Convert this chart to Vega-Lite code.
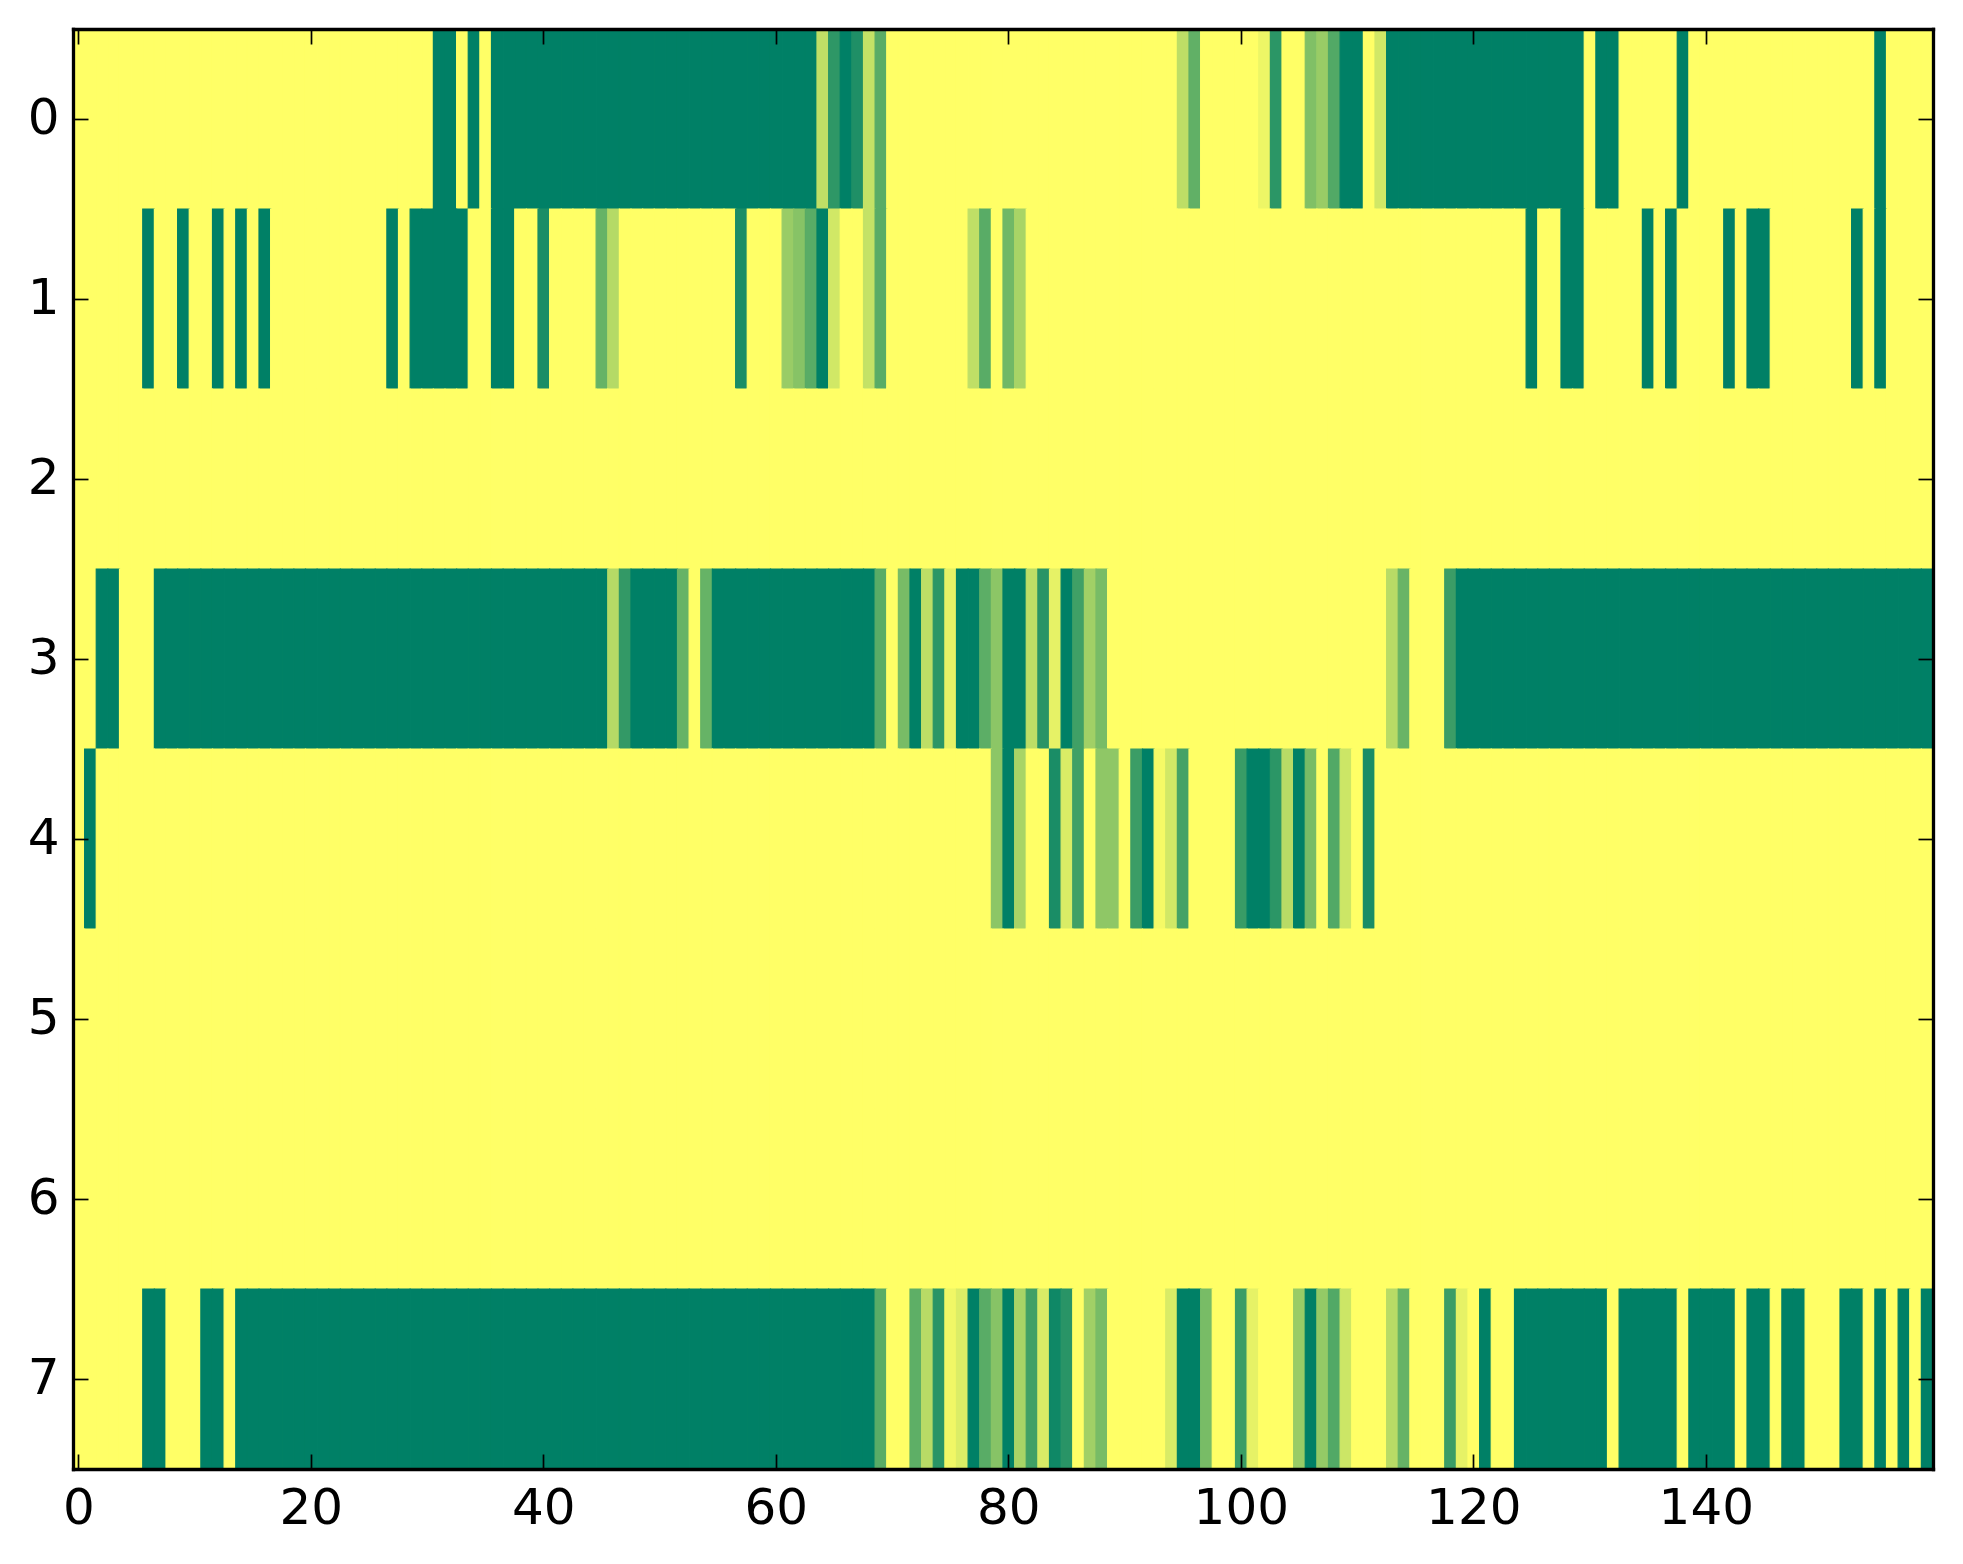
{
"$schema":"https://vega.github.io/schema/vega-lite/v6.json",
"width":1860,
"height":1440,
"autosize":{"type":"none"},
"padding":{"left":73,"top":29,"right":30,"bottom":95},
"background":"white",
"config":{"font":"DejaVu Sans","view":{"stroke":null},
"axis":{"domainColor":"#000","domainWidth":3.3,"domainCap":"square","tickColor":"#000","tickWidth":1.7,"tickSize":-15,"labelColor":"#000","labelFontSize":50,"labelFont":"DejaVu Sans","labelFontWeight":"normal","grid":false,"title":null,"labelAngle":0,"labelFlush":false,"labelOverlap":false}},
"data":{"values":[
{"r":0,"c":0,"v":0},{"r":0,"c":1,"v":0},{"r":0,"c":2,"v":0},{"r":0,"c":3,"v":0},{"r":0,"c":4,"v":0},{"r":0,"c":5,"v":0},{"r":0,"c":6,"v":0},{"r":0,"c":7,"v":0},{"r":0,"c":8,"v":0},{"r":0,"c":9,"v":0},
{"r":0,"c":10,"v":0},{"r":0,"c":11,"v":0},{"r":0,"c":12,"v":0},{"r":0,"c":13,"v":0},{"r":0,"c":14,"v":0},{"r":0,"c":15,"v":0},{"r":0,"c":16,"v":0},{"r":0,"c":17,"v":0},{"r":0,"c":18,"v":0},{"r":0,"c":19,"v":0},
{"r":0,"c":20,"v":0},{"r":0,"c":21,"v":0},{"r":0,"c":22,"v":0},{"r":0,"c":23,"v":0},{"r":0,"c":24,"v":0},{"r":0,"c":25,"v":0},{"r":0,"c":26,"v":0},{"r":0,"c":27,"v":0},{"r":0,"c":28,"v":0},{"r":0,"c":29,"v":0},
{"r":0,"c":30,"v":0},{"r":0,"c":31,"v":1},{"r":0,"c":32,"v":1},{"r":0,"c":33,"v":0},{"r":0,"c":34,"v":1},{"r":0,"c":35,"v":0},{"r":0,"c":36,"v":1},{"r":0,"c":37,"v":1},{"r":0,"c":38,"v":1},{"r":0,"c":39,"v":1},
{"r":0,"c":40,"v":1},{"r":0,"c":41,"v":1},{"r":0,"c":42,"v":1},{"r":0,"c":43,"v":1},{"r":0,"c":44,"v":1},{"r":0,"c":45,"v":1},{"r":0,"c":46,"v":1},{"r":0,"c":47,"v":1},{"r":0,"c":48,"v":1},{"r":0,"c":49,"v":1},
{"r":0,"c":50,"v":1},{"r":0,"c":51,"v":1},{"r":0,"c":52,"v":1},{"r":0,"c":53,"v":1},{"r":0,"c":54,"v":1},{"r":0,"c":55,"v":1},{"r":0,"c":56,"v":1},{"r":0,"c":57,"v":1},{"r":0,"c":58,"v":1},{"r":0,"c":59,"v":1},
{"r":0,"c":60,"v":1},{"r":0,"c":61,"v":1},{"r":0,"c":62,"v":1},{"r":0,"c":63,"v":1},{"r":0,"c":64,"v":0.25},{"r":0,"c":65,"v":0.82},{"r":0,"c":66,"v":1},{"r":0,"c":67,"v":0.88},{"r":0,"c":68,"v":0.23},{"r":0,"c":69,"v":0.65},
{"r":0,"c":70,"v":0},{"r":0,"c":71,"v":0},{"r":0,"c":72,"v":0},{"r":0,"c":73,"v":0},{"r":0,"c":74,"v":0},{"r":0,"c":75,"v":0},{"r":0,"c":76,"v":0},{"r":0,"c":77,"v":0},{"r":0,"c":78,"v":0},{"r":0,"c":79,"v":0},
{"r":0,"c":80,"v":0},{"r":0,"c":81,"v":0},{"r":0,"c":82,"v":0},{"r":0,"c":83,"v":0},{"r":0,"c":84,"v":0},{"r":0,"c":85,"v":0},{"r":0,"c":86,"v":0},{"r":0,"c":87,"v":0},{"r":0,"c":88,"v":0},{"r":0,"c":89,"v":0},
{"r":0,"c":90,"v":0},{"r":0,"c":91,"v":0},{"r":0,"c":92,"v":0},{"r":0,"c":93,"v":0},{"r":0,"c":94,"v":0},{"r":0,"c":95,"v":0.26},{"r":0,"c":96,"v":0.62},{"r":0,"c":97,"v":0},{"r":0,"c":98,"v":0},{"r":0,"c":99,"v":0},
{"r":0,"c":100,"v":0},{"r":0,"c":101,"v":0},{"r":0,"c":102,"v":0.07},{"r":0,"c":103,"v":0.83},{"r":0,"c":104,"v":0},{"r":0,"c":105,"v":0},{"r":0,"c":106,"v":0.5},{"r":0,"c":107,"v":0.4},{"r":0,"c":108,"v":0.68},{"r":0,"c":109,"v":1},
{"r":0,"c":110,"v":1},{"r":0,"c":111,"v":0},{"r":0,"c":112,"v":0.18},{"r":0,"c":113,"v":1},{"r":0,"c":114,"v":1},{"r":0,"c":115,"v":1},{"r":0,"c":116,"v":1},{"r":0,"c":117,"v":1},{"r":0,"c":118,"v":1},{"r":0,"c":119,"v":1},
{"r":0,"c":120,"v":1},{"r":0,"c":121,"v":1},{"r":0,"c":122,"v":1},{"r":0,"c":123,"v":1},{"r":0,"c":124,"v":1},{"r":0,"c":125,"v":1},{"r":0,"c":126,"v":1},{"r":0,"c":127,"v":1},{"r":0,"c":128,"v":1},{"r":0,"c":129,"v":1},
{"r":0,"c":130,"v":0},{"r":0,"c":131,"v":1},{"r":0,"c":132,"v":1},{"r":0,"c":133,"v":0},{"r":0,"c":134,"v":0},{"r":0,"c":135,"v":0},{"r":0,"c":136,"v":0},{"r":0,"c":137,"v":0},{"r":0,"c":138,"v":1},{"r":0,"c":139,"v":0},
{"r":0,"c":140,"v":0},{"r":0,"c":141,"v":0},{"r":0,"c":142,"v":0},{"r":0,"c":143,"v":0},{"r":0,"c":144,"v":0},{"r":0,"c":145,"v":0},{"r":0,"c":146,"v":0},{"r":0,"c":147,"v":0},{"r":0,"c":148,"v":0},{"r":0,"c":149,"v":0},
{"r":0,"c":150,"v":0},{"r":0,"c":151,"v":0},{"r":0,"c":152,"v":0},{"r":0,"c":153,"v":0},{"r":0,"c":154,"v":0},{"r":0,"c":155,"v":1},{"r":0,"c":156,"v":0},{"r":0,"c":157,"v":0},{"r":0,"c":158,"v":0},{"r":0,"c":159,"v":0},

{"r":1,"c":0,"v":0},{"r":1,"c":1,"v":0},{"r":1,"c":2,"v":0},{"r":1,"c":3,"v":0},{"r":1,"c":4,"v":0},{"r":1,"c":5,"v":0},{"r":1,"c":6,"v":1},{"r":1,"c":7,"v":0},{"r":1,"c":8,"v":0},{"r":1,"c":9,"v":1},
{"r":1,"c":10,"v":0},{"r":1,"c":11,"v":0},{"r":1,"c":12,"v":1},{"r":1,"c":13,"v":0},{"r":1,"c":14,"v":1},{"r":1,"c":15,"v":0},{"r":1,"c":16,"v":1},{"r":1,"c":17,"v":0},{"r":1,"c":18,"v":0},{"r":1,"c":19,"v":0},
{"r":1,"c":20,"v":0},{"r":1,"c":21,"v":0},{"r":1,"c":22,"v":0},{"r":1,"c":23,"v":0},{"r":1,"c":24,"v":0},{"r":1,"c":25,"v":0},{"r":1,"c":26,"v":0},{"r":1,"c":27,"v":1},{"r":1,"c":28,"v":0},{"r":1,"c":29,"v":1},
{"r":1,"c":30,"v":1},{"r":1,"c":31,"v":1},{"r":1,"c":32,"v":1},{"r":1,"c":33,"v":1},{"r":1,"c":34,"v":0},{"r":1,"c":35,"v":0},{"r":1,"c":36,"v":1},{"r":1,"c":37,"v":1},{"r":1,"c":38,"v":0},{"r":1,"c":39,"v":0},
{"r":1,"c":40,"v":0.9},{"r":1,"c":41,"v":0},{"r":1,"c":42,"v":0},{"r":1,"c":43,"v":0},{"r":1,"c":44,"v":0},{"r":1,"c":45,"v":0.6},{"r":1,"c":46,"v":0.29},{"r":1,"c":47,"v":0},{"r":1,"c":48,"v":0},{"r":1,"c":49,"v":0},
{"r":1,"c":50,"v":0},{"r":1,"c":51,"v":0},{"r":1,"c":52,"v":0},{"r":1,"c":53,"v":0},{"r":1,"c":54,"v":0},{"r":1,"c":55,"v":0},{"r":1,"c":56,"v":0},{"r":1,"c":57,"v":0.9},{"r":1,"c":58,"v":0},{"r":1,"c":59,"v":0},
{"r":1,"c":60,"v":0},{"r":1,"c":61,"v":0.4},{"r":1,"c":62,"v":0.47},{"r":1,"c":63,"v":0.65},{"r":1,"c":64,"v":1},{"r":1,"c":65,"v":0.18},{"r":1,"c":66,"v":0},{"r":1,"c":67,"v":0},{"r":1,"c":68,"v":0.23},{"r":1,"c":69,"v":0.65},
{"r":1,"c":70,"v":0},{"r":1,"c":71,"v":0},{"r":1,"c":72,"v":0},{"r":1,"c":73,"v":0},{"r":1,"c":74,"v":0},{"r":1,"c":75,"v":0},{"r":1,"c":76,"v":0},{"r":1,"c":77,"v":0.25},{"r":1,"c":78,"v":0.65},{"r":1,"c":79,"v":0},
{"r":1,"c":80,"v":0.56},{"r":1,"c":81,"v":0.34},{"r":1,"c":82,"v":0},{"r":1,"c":83,"v":0},{"r":1,"c":84,"v":0},{"r":1,"c":85,"v":0},{"r":1,"c":86,"v":0},{"r":1,"c":87,"v":0},{"r":1,"c":88,"v":0},{"r":1,"c":89,"v":0},
{"r":1,"c":90,"v":0},{"r":1,"c":91,"v":0},{"r":1,"c":92,"v":0},{"r":1,"c":93,"v":0},{"r":1,"c":94,"v":0},{"r":1,"c":95,"v":0},{"r":1,"c":96,"v":0},{"r":1,"c":97,"v":0},{"r":1,"c":98,"v":0},{"r":1,"c":99,"v":0},
{"r":1,"c":100,"v":0},{"r":1,"c":101,"v":0},{"r":1,"c":102,"v":0},{"r":1,"c":103,"v":0},{"r":1,"c":104,"v":0},{"r":1,"c":105,"v":0},{"r":1,"c":106,"v":0},{"r":1,"c":107,"v":0},{"r":1,"c":108,"v":0},{"r":1,"c":109,"v":0},
{"r":1,"c":110,"v":0},{"r":1,"c":111,"v":0},{"r":1,"c":112,"v":0},{"r":1,"c":113,"v":0},{"r":1,"c":114,"v":0},{"r":1,"c":115,"v":0},{"r":1,"c":116,"v":0},{"r":1,"c":117,"v":0},{"r":1,"c":118,"v":0},{"r":1,"c":119,"v":0},
{"r":1,"c":120,"v":0},{"r":1,"c":121,"v":0},{"r":1,"c":122,"v":0},{"r":1,"c":123,"v":0},{"r":1,"c":124,"v":0},{"r":1,"c":125,"v":1},{"r":1,"c":126,"v":0},{"r":1,"c":127,"v":0},{"r":1,"c":128,"v":1},{"r":1,"c":129,"v":1},
{"r":1,"c":130,"v":0},{"r":1,"c":131,"v":0},{"r":1,"c":132,"v":0},{"r":1,"c":133,"v":0},{"r":1,"c":134,"v":0},{"r":1,"c":135,"v":1},{"r":1,"c":136,"v":0},{"r":1,"c":137,"v":1},{"r":1,"c":138,"v":0},{"r":1,"c":139,"v":0},
{"r":1,"c":140,"v":0},{"r":1,"c":141,"v":0},{"r":1,"c":142,"v":1},{"r":1,"c":143,"v":0},{"r":1,"c":144,"v":1},{"r":1,"c":145,"v":1},{"r":1,"c":146,"v":0},{"r":1,"c":147,"v":0},{"r":1,"c":148,"v":0},{"r":1,"c":149,"v":0},
{"r":1,"c":150,"v":0},{"r":1,"c":151,"v":0},{"r":1,"c":152,"v":0},{"r":1,"c":153,"v":1},{"r":1,"c":154,"v":0},{"r":1,"c":155,"v":1},{"r":1,"c":156,"v":0},{"r":1,"c":157,"v":0},{"r":1,"c":158,"v":0},{"r":1,"c":159,"v":0},

{"r":2,"c":0,"v":0},{"r":2,"c":1,"v":0},{"r":2,"c":2,"v":0},{"r":2,"c":3,"v":0},{"r":2,"c":4,"v":0},{"r":2,"c":5,"v":0},{"r":2,"c":6,"v":0},{"r":2,"c":7,"v":0},{"r":2,"c":8,"v":0},{"r":2,"c":9,"v":0},
{"r":2,"c":10,"v":0},{"r":2,"c":11,"v":0},{"r":2,"c":12,"v":0},{"r":2,"c":13,"v":0},{"r":2,"c":14,"v":0},{"r":2,"c":15,"v":0},{"r":2,"c":16,"v":0},{"r":2,"c":17,"v":0},{"r":2,"c":18,"v":0},{"r":2,"c":19,"v":0},
{"r":2,"c":20,"v":0},{"r":2,"c":21,"v":0},{"r":2,"c":22,"v":0},{"r":2,"c":23,"v":0},{"r":2,"c":24,"v":0},{"r":2,"c":25,"v":0},{"r":2,"c":26,"v":0},{"r":2,"c":27,"v":0},{"r":2,"c":28,"v":0},{"r":2,"c":29,"v":0},
{"r":2,"c":30,"v":0},{"r":2,"c":31,"v":0},{"r":2,"c":32,"v":0},{"r":2,"c":33,"v":0},{"r":2,"c":34,"v":0},{"r":2,"c":35,"v":0},{"r":2,"c":36,"v":0},{"r":2,"c":37,"v":0},{"r":2,"c":38,"v":0},{"r":2,"c":39,"v":0},
{"r":2,"c":40,"v":0},{"r":2,"c":41,"v":0},{"r":2,"c":42,"v":0},{"r":2,"c":43,"v":0},{"r":2,"c":44,"v":0},{"r":2,"c":45,"v":0},{"r":2,"c":46,"v":0},{"r":2,"c":47,"v":0},{"r":2,"c":48,"v":0},{"r":2,"c":49,"v":0},
{"r":2,"c":50,"v":0},{"r":2,"c":51,"v":0},{"r":2,"c":52,"v":0},{"r":2,"c":53,"v":0},{"r":2,"c":54,"v":0},{"r":2,"c":55,"v":0},{"r":2,"c":56,"v":0},{"r":2,"c":57,"v":0},{"r":2,"c":58,"v":0},{"r":2,"c":59,"v":0},
{"r":2,"c":60,"v":0},{"r":2,"c":61,"v":0},{"r":2,"c":62,"v":0},{"r":2,"c":63,"v":0},{"r":2,"c":64,"v":0},{"r":2,"c":65,"v":0},{"r":2,"c":66,"v":0},{"r":2,"c":67,"v":0},{"r":2,"c":68,"v":0},{"r":2,"c":69,"v":0},
{"r":2,"c":70,"v":0},{"r":2,"c":71,"v":0},{"r":2,"c":72,"v":0},{"r":2,"c":73,"v":0},{"r":2,"c":74,"v":0},{"r":2,"c":75,"v":0},{"r":2,"c":76,"v":0},{"r":2,"c":77,"v":0},{"r":2,"c":78,"v":0},{"r":2,"c":79,"v":0},
{"r":2,"c":80,"v":0},{"r":2,"c":81,"v":0},{"r":2,"c":82,"v":0},{"r":2,"c":83,"v":0},{"r":2,"c":84,"v":0},{"r":2,"c":85,"v":0},{"r":2,"c":86,"v":0},{"r":2,"c":87,"v":0},{"r":2,"c":88,"v":0},{"r":2,"c":89,"v":0},
{"r":2,"c":90,"v":0},{"r":2,"c":91,"v":0},{"r":2,"c":92,"v":0},{"r":2,"c":93,"v":0},{"r":2,"c":94,"v":0},{"r":2,"c":95,"v":0},{"r":2,"c":96,"v":0},{"r":2,"c":97,"v":0},{"r":2,"c":98,"v":0},{"r":2,"c":99,"v":0},
{"r":2,"c":100,"v":0},{"r":2,"c":101,"v":0},{"r":2,"c":102,"v":0},{"r":2,"c":103,"v":0},{"r":2,"c":104,"v":0},{"r":2,"c":105,"v":0},{"r":2,"c":106,"v":0},{"r":2,"c":107,"v":0},{"r":2,"c":108,"v":0},{"r":2,"c":109,"v":0},
{"r":2,"c":110,"v":0},{"r":2,"c":111,"v":0},{"r":2,"c":112,"v":0},{"r":2,"c":113,"v":0},{"r":2,"c":114,"v":0},{"r":2,"c":115,"v":0},{"r":2,"c":116,"v":0},{"r":2,"c":117,"v":0},{"r":2,"c":118,"v":0},{"r":2,"c":119,"v":0},
{"r":2,"c":120,"v":0},{"r":2,"c":121,"v":0},{"r":2,"c":122,"v":0},{"r":2,"c":123,"v":0},{"r":2,"c":124,"v":0},{"r":2,"c":125,"v":0},{"r":2,"c":126,"v":0},{"r":2,"c":127,"v":0},{"r":2,"c":128,"v":0},{"r":2,"c":129,"v":0},
{"r":2,"c":130,"v":0},{"r":2,"c":131,"v":0},{"r":2,"c":132,"v":0},{"r":2,"c":133,"v":0},{"r":2,"c":134,"v":0},{"r":2,"c":135,"v":0},{"r":2,"c":136,"v":0},{"r":2,"c":137,"v":0},{"r":2,"c":138,"v":0},{"r":2,"c":139,"v":0},
{"r":2,"c":140,"v":0},{"r":2,"c":141,"v":0},{"r":2,"c":142,"v":0},{"r":2,"c":143,"v":0},{"r":2,"c":144,"v":0},{"r":2,"c":145,"v":0},{"r":2,"c":146,"v":0},{"r":2,"c":147,"v":0},{"r":2,"c":148,"v":0},{"r":2,"c":149,"v":0},
{"r":2,"c":150,"v":0},{"r":2,"c":151,"v":0},{"r":2,"c":152,"v":0},{"r":2,"c":153,"v":0},{"r":2,"c":154,"v":0},{"r":2,"c":155,"v":0},{"r":2,"c":156,"v":0},{"r":2,"c":157,"v":0},{"r":2,"c":158,"v":0},{"r":2,"c":159,"v":0},

{"r":3,"c":0,"v":0},{"r":3,"c":1,"v":0},{"r":3,"c":2,"v":1},{"r":3,"c":3,"v":1},{"r":3,"c":4,"v":0},{"r":3,"c":5,"v":0},{"r":3,"c":6,"v":0},{"r":3,"c":7,"v":1},{"r":3,"c":8,"v":1},{"r":3,"c":9,"v":1},
{"r":3,"c":10,"v":1},{"r":3,"c":11,"v":1},{"r":3,"c":12,"v":1},{"r":3,"c":13,"v":1},{"r":3,"c":14,"v":1},{"r":3,"c":15,"v":1},{"r":3,"c":16,"v":1},{"r":3,"c":17,"v":1},{"r":3,"c":18,"v":1},{"r":3,"c":19,"v":1},
{"r":3,"c":20,"v":1},{"r":3,"c":21,"v":1},{"r":3,"c":22,"v":1},{"r":3,"c":23,"v":1},{"r":3,"c":24,"v":1},{"r":3,"c":25,"v":1},{"r":3,"c":26,"v":1},{"r":3,"c":27,"v":1},{"r":3,"c":28,"v":1},{"r":3,"c":29,"v":1},
{"r":3,"c":30,"v":1},{"r":3,"c":31,"v":1},{"r":3,"c":32,"v":1},{"r":3,"c":33,"v":1},{"r":3,"c":34,"v":1},{"r":3,"c":35,"v":1},{"r":3,"c":36,"v":1},{"r":3,"c":37,"v":1},{"r":3,"c":38,"v":1},{"r":3,"c":39,"v":1},
{"r":3,"c":40,"v":1},{"r":3,"c":41,"v":1},{"r":3,"c":42,"v":1},{"r":3,"c":43,"v":1},{"r":3,"c":44,"v":1},{"r":3,"c":45,"v":1},{"r":3,"c":46,"v":0.29},{"r":3,"c":47,"v":0.8},{"r":3,"c":48,"v":1},{"r":3,"c":49,"v":1},
{"r":3,"c":50,"v":1},{"r":3,"c":51,"v":1},{"r":3,"c":52,"v":0.6},{"r":3,"c":53,"v":0},{"r":3,"c":54,"v":0.6},{"r":3,"c":55,"v":1},{"r":3,"c":56,"v":1},{"r":3,"c":57,"v":1},{"r":3,"c":58,"v":1},{"r":3,"c":59,"v":1},
{"r":3,"c":60,"v":1},{"r":3,"c":61,"v":1},{"r":3,"c":62,"v":1},{"r":3,"c":63,"v":1},{"r":3,"c":64,"v":1},{"r":3,"c":65,"v":1},{"r":3,"c":66,"v":1},{"r":3,"c":67,"v":1},{"r":3,"c":68,"v":1},{"r":3,"c":69,"v":0.65},
{"r":3,"c":70,"v":0},{"r":3,"c":71,"v":0.53},{"r":3,"c":72,"v":1},{"r":3,"c":73,"v":0.26},{"r":3,"c":74,"v":0.83},{"r":3,"c":75,"v":0.1},{"r":3,"c":76,"v":1},{"r":3,"c":77,"v":1},{"r":3,"c":78,"v":0.64},{"r":3,"c":79,"v":0.45},
{"r":3,"c":80,"v":1},{"r":3,"c":81,"v":1},{"r":3,"c":82,"v":0.26},{"r":3,"c":83,"v":0.84},{"r":3,"c":84,"v":0.1},{"r":3,"c":85,"v":1},{"r":3,"c":86,"v":0.75},{"r":3,"c":87,"v":0.37},{"r":3,"c":88,"v":0.53},{"r":3,"c":89,"v":0},
{"r":3,"c":90,"v":0},{"r":3,"c":91,"v":0},{"r":3,"c":92,"v":0},{"r":3,"c":93,"v":0},{"r":3,"c":94,"v":0},{"r":3,"c":95,"v":0},{"r":3,"c":96,"v":0},{"r":3,"c":97,"v":0},{"r":3,"c":98,"v":0},{"r":3,"c":99,"v":0},
{"r":3,"c":100,"v":0},{"r":3,"c":101,"v":0},{"r":3,"c":102,"v":0},{"r":3,"c":103,"v":0},{"r":3,"c":104,"v":0},{"r":3,"c":105,"v":0},{"r":3,"c":106,"v":0},{"r":3,"c":107,"v":0},{"r":3,"c":108,"v":0},{"r":3,"c":109,"v":0},
{"r":3,"c":110,"v":0},{"r":3,"c":111,"v":0},{"r":3,"c":112,"v":0},{"r":3,"c":113,"v":0.28},{"r":3,"c":114,"v":0.59},{"r":3,"c":115,"v":0},{"r":3,"c":116,"v":0},{"r":3,"c":117,"v":0},{"r":3,"c":118,"v":0.77},{"r":3,"c":119,"v":1},
{"r":3,"c":120,"v":1},{"r":3,"c":121,"v":1},{"r":3,"c":122,"v":1},{"r":3,"c":123,"v":1},{"r":3,"c":124,"v":1},{"r":3,"c":125,"v":1},{"r":3,"c":126,"v":1},{"r":3,"c":127,"v":1},{"r":3,"c":128,"v":1},{"r":3,"c":129,"v":1},
{"r":3,"c":130,"v":1},{"r":3,"c":131,"v":1},{"r":3,"c":132,"v":1},{"r":3,"c":133,"v":1},{"r":3,"c":134,"v":1},{"r":3,"c":135,"v":1},{"r":3,"c":136,"v":1},{"r":3,"c":137,"v":1},{"r":3,"c":138,"v":1},{"r":3,"c":139,"v":1},
{"r":3,"c":140,"v":1},{"r":3,"c":141,"v":1},{"r":3,"c":142,"v":1},{"r":3,"c":143,"v":1},{"r":3,"c":144,"v":1},{"r":3,"c":145,"v":1},{"r":3,"c":146,"v":1},{"r":3,"c":147,"v":1},{"r":3,"c":148,"v":1},{"r":3,"c":149,"v":1},
{"r":3,"c":150,"v":1},{"r":3,"c":151,"v":1},{"r":3,"c":152,"v":1},{"r":3,"c":153,"v":1},{"r":3,"c":154,"v":1},{"r":3,"c":155,"v":1},{"r":3,"c":156,"v":1},{"r":3,"c":157,"v":1},{"r":3,"c":158,"v":1},{"r":3,"c":159,"v":1},

{"r":4,"c":0,"v":0},{"r":4,"c":1,"v":1},{"r":4,"c":2,"v":0},{"r":4,"c":3,"v":0},{"r":4,"c":4,"v":0},{"r":4,"c":5,"v":0},{"r":4,"c":6,"v":0},{"r":4,"c":7,"v":0},{"r":4,"c":8,"v":0},{"r":4,"c":9,"v":0},
{"r":4,"c":10,"v":0},{"r":4,"c":11,"v":0},{"r":4,"c":12,"v":0},{"r":4,"c":13,"v":0},{"r":4,"c":14,"v":0},{"r":4,"c":15,"v":0},{"r":4,"c":16,"v":0},{"r":4,"c":17,"v":0},{"r":4,"c":18,"v":0},{"r":4,"c":19,"v":0},
{"r":4,"c":20,"v":0},{"r":4,"c":21,"v":0},{"r":4,"c":22,"v":0},{"r":4,"c":23,"v":0},{"r":4,"c":24,"v":0},{"r":4,"c":25,"v":0},{"r":4,"c":26,"v":0},{"r":4,"c":27,"v":0},{"r":4,"c":28,"v":0},{"r":4,"c":29,"v":0},
{"r":4,"c":30,"v":0},{"r":4,"c":31,"v":0},{"r":4,"c":32,"v":0},{"r":4,"c":33,"v":0},{"r":4,"c":34,"v":0},{"r":4,"c":35,"v":0},{"r":4,"c":36,"v":0},{"r":4,"c":37,"v":0},{"r":4,"c":38,"v":0},{"r":4,"c":39,"v":0},
{"r":4,"c":40,"v":0},{"r":4,"c":41,"v":0},{"r":4,"c":42,"v":0},{"r":4,"c":43,"v":0},{"r":4,"c":44,"v":0},{"r":4,"c":45,"v":0},{"r":4,"c":46,"v":0},{"r":4,"c":47,"v":0},{"r":4,"c":48,"v":0},{"r":4,"c":49,"v":0},
{"r":4,"c":50,"v":0},{"r":4,"c":51,"v":0},{"r":4,"c":52,"v":0},{"r":4,"c":53,"v":0},{"r":4,"c":54,"v":0},{"r":4,"c":55,"v":0},{"r":4,"c":56,"v":0},{"r":4,"c":57,"v":0},{"r":4,"c":58,"v":0},{"r":4,"c":59,"v":0},
{"r":4,"c":60,"v":0},{"r":4,"c":61,"v":0},{"r":4,"c":62,"v":0},{"r":4,"c":63,"v":0},{"r":4,"c":64,"v":0},{"r":4,"c":65,"v":0},{"r":4,"c":66,"v":0},{"r":4,"c":67,"v":0},{"r":4,"c":68,"v":0},{"r":4,"c":69,"v":0},
{"r":4,"c":70,"v":0},{"r":4,"c":71,"v":0},{"r":4,"c":72,"v":0},{"r":4,"c":73,"v":0},{"r":4,"c":74,"v":0},{"r":4,"c":75,"v":0},{"r":4,"c":76,"v":0},{"r":4,"c":77,"v":0},{"r":4,"c":78,"v":0},{"r":4,"c":79,"v":0.45},
{"r":4,"c":80,"v":1},{"r":4,"c":81,"v":0.34},{"r":4,"c":82,"v":0},{"r":4,"c":83,"v":0},{"r":4,"c":84,"v":0.9},{"r":4,"c":85,"v":0.15},{"r":4,"c":86,"v":0.75},{"r":4,"c":87,"v":0},{"r":4,"c":88,"v":0.44},{"r":4,"c":89,"v":0.44},
{"r":4,"c":90,"v":0},{"r":4,"c":91,"v":0.77},{"r":4,"c":92,"v":1},{"r":4,"c":93,"v":0.04},{"r":4,"c":94,"v":0.18},{"r":4,"c":95,"v":0.73},{"r":4,"c":96,"v":0},{"r":4,"c":97,"v":0},{"r":4,"c":98,"v":0},{"r":4,"c":99,"v":0},
{"r":4,"c":100,"v":0.78},{"r":4,"c":101,"v":1},{"r":4,"c":102,"v":1},{"r":4,"c":103,"v":0.83},{"r":4,"c":104,"v":0.28},{"r":4,"c":105,"v":1},{"r":4,"c":106,"v":0.53},{"r":4,"c":107,"v":0},{"r":4,"c":108,"v":0.68},{"r":4,"c":109,"v":0.2},
{"r":4,"c":110,"v":0},{"r":4,"c":111,"v":0.9},{"r":4,"c":112,"v":0},{"r":4,"c":113,"v":0},{"r":4,"c":114,"v":0},{"r":4,"c":115,"v":0},{"r":4,"c":116,"v":0},{"r":4,"c":117,"v":0},{"r":4,"c":118,"v":0},{"r":4,"c":119,"v":0},
{"r":4,"c":120,"v":0},{"r":4,"c":121,"v":0},{"r":4,"c":122,"v":0},{"r":4,"c":123,"v":0},{"r":4,"c":124,"v":0},{"r":4,"c":125,"v":0},{"r":4,"c":126,"v":0},{"r":4,"c":127,"v":0},{"r":4,"c":128,"v":0},{"r":4,"c":129,"v":0},
{"r":4,"c":130,"v":0},{"r":4,"c":131,"v":0},{"r":4,"c":132,"v":0},{"r":4,"c":133,"v":0},{"r":4,"c":134,"v":0},{"r":4,"c":135,"v":0},{"r":4,"c":136,"v":0},{"r":4,"c":137,"v":0},{"r":4,"c":138,"v":0},{"r":4,"c":139,"v":0},
{"r":4,"c":140,"v":0},{"r":4,"c":141,"v":0},{"r":4,"c":142,"v":0},{"r":4,"c":143,"v":0},{"r":4,"c":144,"v":0},{"r":4,"c":145,"v":0},{"r":4,"c":146,"v":0},{"r":4,"c":147,"v":0},{"r":4,"c":148,"v":0},{"r":4,"c":149,"v":0},
{"r":4,"c":150,"v":0},{"r":4,"c":151,"v":0},{"r":4,"c":152,"v":0},{"r":4,"c":153,"v":0},{"r":4,"c":154,"v":0},{"r":4,"c":155,"v":0},{"r":4,"c":156,"v":0},{"r":4,"c":157,"v":0},{"r":4,"c":158,"v":0},{"r":4,"c":159,"v":0},

{"r":5,"c":0,"v":0},{"r":5,"c":1,"v":0},{"r":5,"c":2,"v":0},{"r":5,"c":3,"v":0},{"r":5,"c":4,"v":0},{"r":5,"c":5,"v":0},{"r":5,"c":6,"v":0},{"r":5,"c":7,"v":0},{"r":5,"c":8,"v":0},{"r":5,"c":9,"v":0},
{"r":5,"c":10,"v":0},{"r":5,"c":11,"v":0},{"r":5,"c":12,"v":0},{"r":5,"c":13,"v":0},{"r":5,"c":14,"v":0},{"r":5,"c":15,"v":0},{"r":5,"c":16,"v":0},{"r":5,"c":17,"v":0},{"r":5,"c":18,"v":0},{"r":5,"c":19,"v":0},
{"r":5,"c":20,"v":0},{"r":5,"c":21,"v":0},{"r":5,"c":22,"v":0},{"r":5,"c":23,"v":0},{"r":5,"c":24,"v":0},{"r":5,"c":25,"v":0},{"r":5,"c":26,"v":0},{"r":5,"c":27,"v":0},{"r":5,"c":28,"v":0},{"r":5,"c":29,"v":0},
{"r":5,"c":30,"v":0},{"r":5,"c":31,"v":0},{"r":5,"c":32,"v":0},{"r":5,"c":33,"v":0},{"r":5,"c":34,"v":0},{"r":5,"c":35,"v":0},{"r":5,"c":36,"v":0},{"r":5,"c":37,"v":0},{"r":5,"c":38,"v":0},{"r":5,"c":39,"v":0},
{"r":5,"c":40,"v":0},{"r":5,"c":41,"v":0},{"r":5,"c":42,"v":0},{"r":5,"c":43,"v":0},{"r":5,"c":44,"v":0},{"r":5,"c":45,"v":0},{"r":5,"c":46,"v":0},{"r":5,"c":47,"v":0},{"r":5,"c":48,"v":0},{"r":5,"c":49,"v":0},
{"r":5,"c":50,"v":0},{"r":5,"c":51,"v":0},{"r":5,"c":52,"v":0},{"r":5,"c":53,"v":0},{"r":5,"c":54,"v":0},{"r":5,"c":55,"v":0},{"r":5,"c":56,"v":0},{"r":5,"c":57,"v":0},{"r":5,"c":58,"v":0},{"r":5,"c":59,"v":0},
{"r":5,"c":60,"v":0},{"r":5,"c":61,"v":0},{"r":5,"c":62,"v":0},{"r":5,"c":63,"v":0},{"r":5,"c":64,"v":0},{"r":5,"c":65,"v":0},{"r":5,"c":66,"v":0},{"r":5,"c":67,"v":0},{"r":5,"c":68,"v":0},{"r":5,"c":69,"v":0},
{"r":5,"c":70,"v":0},{"r":5,"c":71,"v":0},{"r":5,"c":72,"v":0},{"r":5,"c":73,"v":0},{"r":5,"c":74,"v":0},{"r":5,"c":75,"v":0},{"r":5,"c":76,"v":0},{"r":5,"c":77,"v":0},{"r":5,"c":78,"v":0},{"r":5,"c":79,"v":0},
{"r":5,"c":80,"v":0},{"r":5,"c":81,"v":0},{"r":5,"c":82,"v":0},{"r":5,"c":83,"v":0},{"r":5,"c":84,"v":0},{"r":5,"c":85,"v":0},{"r":5,"c":86,"v":0},{"r":5,"c":87,"v":0},{"r":5,"c":88,"v":0},{"r":5,"c":89,"v":0},
{"r":5,"c":90,"v":0},{"r":5,"c":91,"v":0},{"r":5,"c":92,"v":0},{"r":5,"c":93,"v":0},{"r":5,"c":94,"v":0},{"r":5,"c":95,"v":0},{"r":5,"c":96,"v":0},{"r":5,"c":97,"v":0},{"r":5,"c":98,"v":0},{"r":5,"c":99,"v":0},
{"r":5,"c":100,"v":0},{"r":5,"c":101,"v":0},{"r":5,"c":102,"v":0},{"r":5,"c":103,"v":0},{"r":5,"c":104,"v":0},{"r":5,"c":105,"v":0},{"r":5,"c":106,"v":0},{"r":5,"c":107,"v":0},{"r":5,"c":108,"v":0},{"r":5,"c":109,"v":0},
{"r":5,"c":110,"v":0},{"r":5,"c":111,"v":0},{"r":5,"c":112,"v":0},{"r":5,"c":113,"v":0},{"r":5,"c":114,"v":0},{"r":5,"c":115,"v":0},{"r":5,"c":116,"v":0},{"r":5,"c":117,"v":0},{"r":5,"c":118,"v":0},{"r":5,"c":119,"v":0},
{"r":5,"c":120,"v":0},{"r":5,"c":121,"v":0},{"r":5,"c":122,"v":0},{"r":5,"c":123,"v":0},{"r":5,"c":124,"v":0},{"r":5,"c":125,"v":0},{"r":5,"c":126,"v":0},{"r":5,"c":127,"v":0},{"r":5,"c":128,"v":0},{"r":5,"c":129,"v":0},
{"r":5,"c":130,"v":0},{"r":5,"c":131,"v":0},{"r":5,"c":132,"v":0},{"r":5,"c":133,"v":0},{"r":5,"c":134,"v":0},{"r":5,"c":135,"v":0},{"r":5,"c":136,"v":0},{"r":5,"c":137,"v":0},{"r":5,"c":138,"v":0},{"r":5,"c":139,"v":0},
{"r":5,"c":140,"v":0},{"r":5,"c":141,"v":0},{"r":5,"c":142,"v":0},{"r":5,"c":143,"v":0},{"r":5,"c":144,"v":0},{"r":5,"c":145,"v":0},{"r":5,"c":146,"v":0},{"r":5,"c":147,"v":0},{"r":5,"c":148,"v":0},{"r":5,"c":149,"v":0},
{"r":5,"c":150,"v":0},{"r":5,"c":151,"v":0},{"r":5,"c":152,"v":0},{"r":5,"c":153,"v":0},{"r":5,"c":154,"v":0},{"r":5,"c":155,"v":0},{"r":5,"c":156,"v":0},{"r":5,"c":157,"v":0},{"r":5,"c":158,"v":0},{"r":5,"c":159,"v":0},

{"r":6,"c":0,"v":0},{"r":6,"c":1,"v":0},{"r":6,"c":2,"v":0},{"r":6,"c":3,"v":0},{"r":6,"c":4,"v":0},{"r":6,"c":5,"v":0},{"r":6,"c":6,"v":0},{"r":6,"c":7,"v":0},{"r":6,"c":8,"v":0},{"r":6,"c":9,"v":0},
{"r":6,"c":10,"v":0},{"r":6,"c":11,"v":0},{"r":6,"c":12,"v":0},{"r":6,"c":13,"v":0},{"r":6,"c":14,"v":0},{"r":6,"c":15,"v":0},{"r":6,"c":16,"v":0},{"r":6,"c":17,"v":0},{"r":6,"c":18,"v":0},{"r":6,"c":19,"v":0},
{"r":6,"c":20,"v":0},{"r":6,"c":21,"v":0},{"r":6,"c":22,"v":0},{"r":6,"c":23,"v":0},{"r":6,"c":24,"v":0},{"r":6,"c":25,"v":0},{"r":6,"c":26,"v":0},{"r":6,"c":27,"v":0},{"r":6,"c":28,"v":0},{"r":6,"c":29,"v":0},
{"r":6,"c":30,"v":0},{"r":6,"c":31,"v":0},{"r":6,"c":32,"v":0},{"r":6,"c":33,"v":0},{"r":6,"c":34,"v":0},{"r":6,"c":35,"v":0},{"r":6,"c":36,"v":0},{"r":6,"c":37,"v":0},{"r":6,"c":38,"v":0},{"r":6,"c":39,"v":0},
{"r":6,"c":40,"v":0},{"r":6,"c":41,"v":0},{"r":6,"c":42,"v":0},{"r":6,"c":43,"v":0},{"r":6,"c":44,"v":0},{"r":6,"c":45,"v":0},{"r":6,"c":46,"v":0},{"r":6,"c":47,"v":0},{"r":6,"c":48,"v":0},{"r":6,"c":49,"v":0},
{"r":6,"c":50,"v":0},{"r":6,"c":51,"v":0},{"r":6,"c":52,"v":0},{"r":6,"c":53,"v":0},{"r":6,"c":54,"v":0},{"r":6,"c":55,"v":0},{"r":6,"c":56,"v":0},{"r":6,"c":57,"v":0},{"r":6,"c":58,"v":0},{"r":6,"c":59,"v":0},
{"r":6,"c":60,"v":0},{"r":6,"c":61,"v":0},{"r":6,"c":62,"v":0},{"r":6,"c":63,"v":0},{"r":6,"c":64,"v":0},{"r":6,"c":65,"v":0},{"r":6,"c":66,"v":0},{"r":6,"c":67,"v":0},{"r":6,"c":68,"v":0},{"r":6,"c":69,"v":0},
{"r":6,"c":70,"v":0},{"r":6,"c":71,"v":0},{"r":6,"c":72,"v":0},{"r":6,"c":73,"v":0},{"r":6,"c":74,"v":0},{"r":6,"c":75,"v":0},{"r":6,"c":76,"v":0},{"r":6,"c":77,"v":0},{"r":6,"c":78,"v":0},{"r":6,"c":79,"v":0},
{"r":6,"c":80,"v":0},{"r":6,"c":81,"v":0},{"r":6,"c":82,"v":0},{"r":6,"c":83,"v":0},{"r":6,"c":84,"v":0},{"r":6,"c":85,"v":0},{"r":6,"c":86,"v":0},{"r":6,"c":87,"v":0},{"r":6,"c":88,"v":0},{"r":6,"c":89,"v":0},
{"r":6,"c":90,"v":0},{"r":6,"c":91,"v":0},{"r":6,"c":92,"v":0},{"r":6,"c":93,"v":0},{"r":6,"c":94,"v":0},{"r":6,"c":95,"v":0},{"r":6,"c":96,"v":0},{"r":6,"c":97,"v":0},{"r":6,"c":98,"v":0},{"r":6,"c":99,"v":0},
{"r":6,"c":100,"v":0},{"r":6,"c":101,"v":0},{"r":6,"c":102,"v":0},{"r":6,"c":103,"v":0},{"r":6,"c":104,"v":0},{"r":6,"c":105,"v":0},{"r":6,"c":106,"v":0},{"r":6,"c":107,"v":0},{"r":6,"c":108,"v":0},{"r":6,"c":109,"v":0},
{"r":6,"c":110,"v":0},{"r":6,"c":111,"v":0},{"r":6,"c":112,"v":0},{"r":6,"c":113,"v":0},{"r":6,"c":114,"v":0},{"r":6,"c":115,"v":0},{"r":6,"c":116,"v":0},{"r":6,"c":117,"v":0},{"r":6,"c":118,"v":0},{"r":6,"c":119,"v":0},
{"r":6,"c":120,"v":0},{"r":6,"c":121,"v":0},{"r":6,"c":122,"v":0},{"r":6,"c":123,"v":0},{"r":6,"c":124,"v":0},{"r":6,"c":125,"v":0},{"r":6,"c":126,"v":0},{"r":6,"c":127,"v":0},{"r":6,"c":128,"v":0},{"r":6,"c":129,"v":0},
{"r":6,"c":130,"v":0},{"r":6,"c":131,"v":0},{"r":6,"c":132,"v":0},{"r":6,"c":133,"v":0},{"r":6,"c":134,"v":0},{"r":6,"c":135,"v":0},{"r":6,"c":136,"v":0},{"r":6,"c":137,"v":0},{"r":6,"c":138,"v":0},{"r":6,"c":139,"v":0},
{"r":6,"c":140,"v":0},{"r":6,"c":141,"v":0},{"r":6,"c":142,"v":0},{"r":6,"c":143,"v":0},{"r":6,"c":144,"v":0},{"r":6,"c":145,"v":0},{"r":6,"c":146,"v":0},{"r":6,"c":147,"v":0},{"r":6,"c":148,"v":0},{"r":6,"c":149,"v":0},
{"r":6,"c":150,"v":0},{"r":6,"c":151,"v":0},{"r":6,"c":152,"v":0},{"r":6,"c":153,"v":0},{"r":6,"c":154,"v":0},{"r":6,"c":155,"v":0},{"r":6,"c":156,"v":0},{"r":6,"c":157,"v":0},{"r":6,"c":158,"v":0},{"r":6,"c":159,"v":0},

{"r":7,"c":0,"v":0},{"r":7,"c":1,"v":0},{"r":7,"c":2,"v":0},{"r":7,"c":3,"v":0},{"r":7,"c":4,"v":0},{"r":7,"c":5,"v":0},{"r":7,"c":6,"v":1},{"r":7,"c":7,"v":1},{"r":7,"c":8,"v":0},{"r":7,"c":9,"v":0},
{"r":7,"c":10,"v":0},{"r":7,"c":11,"v":1},{"r":7,"c":12,"v":1},{"r":7,"c":13,"v":0},{"r":7,"c":14,"v":1},{"r":7,"c":15,"v":1},{"r":7,"c":16,"v":1},{"r":7,"c":17,"v":1},{"r":7,"c":18,"v":1},{"r":7,"c":19,"v":1},
{"r":7,"c":20,"v":1},{"r":7,"c":21,"v":1},{"r":7,"c":22,"v":1},{"r":7,"c":23,"v":1},{"r":7,"c":24,"v":1},{"r":7,"c":25,"v":1},{"r":7,"c":26,"v":1},{"r":7,"c":27,"v":1},{"r":7,"c":28,"v":1},{"r":7,"c":29,"v":1},
{"r":7,"c":30,"v":1},{"r":7,"c":31,"v":1},{"r":7,"c":32,"v":1},{"r":7,"c":33,"v":1},{"r":7,"c":34,"v":1},{"r":7,"c":35,"v":1},{"r":7,"c":36,"v":1},{"r":7,"c":37,"v":1},{"r":7,"c":38,"v":1},{"r":7,"c":39,"v":1},
{"r":7,"c":40,"v":1},{"r":7,"c":41,"v":1},{"r":7,"c":42,"v":1},{"r":7,"c":43,"v":1},{"r":7,"c":44,"v":1},{"r":7,"c":45,"v":1},{"r":7,"c":46,"v":1},{"r":7,"c":47,"v":1},{"r":7,"c":48,"v":1},{"r":7,"c":49,"v":1},
{"r":7,"c":50,"v":1},{"r":7,"c":51,"v":1},{"r":7,"c":52,"v":1},{"r":7,"c":53,"v":1},{"r":7,"c":54,"v":1},{"r":7,"c":55,"v":1},{"r":7,"c":56,"v":1},{"r":7,"c":57,"v":1},{"r":7,"c":58,"v":1},{"r":7,"c":59,"v":1},
{"r":7,"c":60,"v":1},{"r":7,"c":61,"v":1},{"r":7,"c":62,"v":1},{"r":7,"c":63,"v":1},{"r":7,"c":64,"v":1},{"r":7,"c":65,"v":1},{"r":7,"c":66,"v":1},{"r":7,"c":67,"v":1},{"r":7,"c":68,"v":1},{"r":7,"c":69,"v":0.65},
{"r":7,"c":70,"v":0},{"r":7,"c":71,"v":0},{"r":7,"c":72,"v":0.63},{"r":7,"c":73,"v":0.28},{"r":7,"c":74,"v":0.84},{"r":7,"c":75,"v":0.06},{"r":7,"c":76,"v":0.14},{"r":7,"c":77,"v":1},{"r":7,"c":78,"v":0.65},{"r":7,"c":79,"v":0.47},
{"r":7,"c":80,"v":1},{"r":7,"c":81,"v":0.34},{"r":7,"c":82,"v":0.75},{"r":7,"c":83,"v":0.15},{"r":7,"c":84,"v":0.94},{"r":7,"c":85,"v":0.84},{"r":7,"c":86,"v":0},{"r":7,"c":87,"v":0.37},{"r":7,"c":88,"v":0.53},{"r":7,"c":89,"v":0},
{"r":7,"c":90,"v":0},{"r":7,"c":91,"v":0},{"r":7,"c":92,"v":0},{"r":7,"c":93,"v":0},{"r":7,"c":94,"v":0.15},{"r":7,"c":95,"v":1},{"r":7,"c":96,"v":1},{"r":7,"c":97,"v":0.53},{"r":7,"c":98,"v":0},{"r":7,"c":99,"v":0},
{"r":7,"c":100,"v":0.77},{"r":7,"c":101,"v":0.1},{"r":7,"c":102,"v":0},{"r":7,"c":103,"v":0},{"r":7,"c":104,"v":0},{"r":7,"c":105,"v":0.4},{"r":7,"c":106,"v":1},{"r":7,"c":107,"v":0.42},{"r":7,"c":108,"v":0.68},{"r":7,"c":109,"v":0.2},
{"r":7,"c":110,"v":0},{"r":7,"c":111,"v":0},{"r":7,"c":112,"v":0},{"r":7,"c":113,"v":0.28},{"r":7,"c":114,"v":0.6},{"r":7,"c":115,"v":0},{"r":7,"c":116,"v":0},{"r":7,"c":117,"v":0},{"r":7,"c":118,"v":0.77},{"r":7,"c":119,"v":0.1},
{"r":7,"c":120,"v":0},{"r":7,"c":121,"v":1},{"r":7,"c":122,"v":0},{"r":7,"c":123,"v":0},{"r":7,"c":124,"v":1},{"r":7,"c":125,"v":1},{"r":7,"c":126,"v":1},{"r":7,"c":127,"v":1},{"r":7,"c":128,"v":1},{"r":7,"c":129,"v":1},
{"r":7,"c":130,"v":1},{"r":7,"c":131,"v":1},{"r":7,"c":132,"v":0},{"r":7,"c":133,"v":1},{"r":7,"c":134,"v":1},{"r":7,"c":135,"v":1},{"r":7,"c":136,"v":1},{"r":7,"c":137,"v":1},{"r":7,"c":138,"v":0},{"r":7,"c":139,"v":1},
{"r":7,"c":140,"v":1},{"r":7,"c":141,"v":1},{"r":7,"c":142,"v":1},{"r":7,"c":143,"v":0},{"r":7,"c":144,"v":1},{"r":7,"c":145,"v":1},{"r":7,"c":146,"v":0},{"r":7,"c":147,"v":1},{"r":7,"c":148,"v":1},{"r":7,"c":149,"v":0},
{"r":7,"c":150,"v":0},{"r":7,"c":151,"v":0},{"r":7,"c":152,"v":1},{"r":7,"c":153,"v":1},{"r":7,"c":154,"v":0},{"r":7,"c":155,"v":1},{"r":7,"c":156,"v":0},{"r":7,"c":157,"v":1},{"r":7,"c":158,"v":0},{"r":7,"c":159,"v":1}
]},
"layer":[
{"mark":{"type":"rect","strokeWidth":1.2},
"encoding":{
"x":{"field":"c","type":"ordinal","scale":{"paddingInner":0,"paddingOuter":0},"axis":{"orient":"bottom","zindex":1,"values":[0,20,40,60,80,100,120,140],"labelPadding":29,"labelBaseline":"top"}},
"y":{"field":"r","type":"ordinal","scale":{"paddingInner":0,"paddingOuter":0},"axis":{"orient":"left","zindex":1,"labelPadding":29,"labelBaseline":"middle"}},
"color":{"field":"v","type":"quantitative","legend":null,"scale":{"domain":[0,1],"range":["#ffff66","#008066"],"interpolate":"rgb"}},
"stroke":{"field":"v","type":"quantitative","legend":null,"scale":{"domain":[0,1],"range":["#ffff66","#008066"],"interpolate":"rgb"}}}},
{"mark":{"type":"rect","opacity":0},
"encoding":{
"x":{"field":"c","type":"ordinal","scale":{"paddingInner":0,"paddingOuter":0},"axis":{"orient":"top","zindex":1,"values":[0,20,40,60,80,100,120,140],"labels":false}},
"y":{"field":"r","type":"ordinal","scale":{"paddingInner":0,"paddingOuter":0},"axis":{"orient":"right","zindex":1,"labels":false}}}}
],
"resolve":{"axis":{"x":"independent","y":"independent"}}
}
